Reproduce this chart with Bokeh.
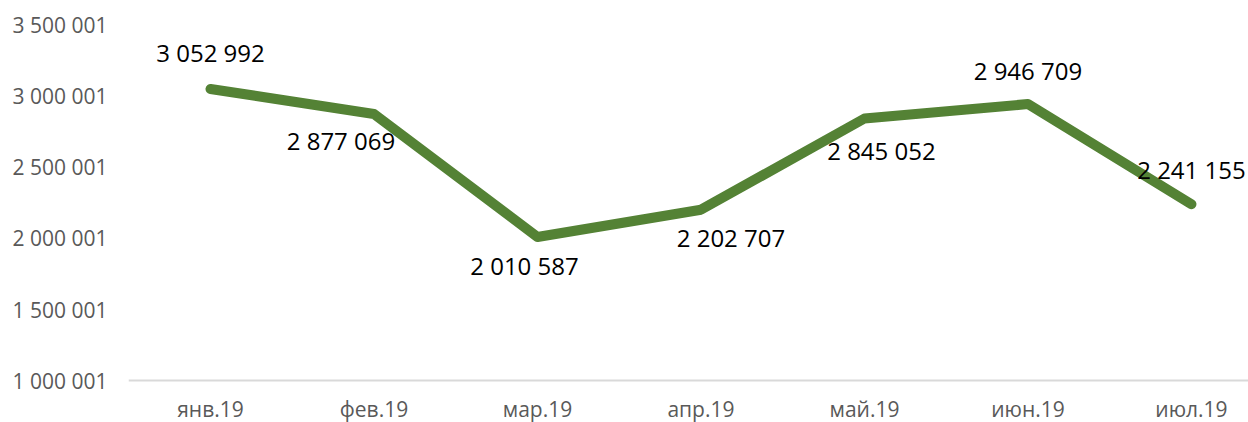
from bokeh.plotting import figure
from bokeh.models import ColumnDataSource, FixedTicker, Range1d, Span, PolyAnnotation
from bokeh.core.properties import value
from bokeh.embed import file_html
from bokeh.resources import INLINE

categories = ["янв.19", "фев.19", "мар.19", "апр.19", "май.19", "июн.19", "июл.19"]
values = [3052992, 2877069, 2010587, 2202707, 2845052, 2946709, 2241155]
y_ticks = [1000001, 1500001, 2000001, 2500001, 3000001, 3500001]

# label placement (screen px offsets from the point)
label_dx = [0, -33, -13, 30, 17, 0, 0]
label_dy = [-36, 27, 29, 28, 32, -34, -35]

def fmt(v):
    return f"{v:,}".replace(",", " ")

xs = list(range(len(categories)))
src = ColumnDataSource(dict(x=xs, y=values, label=[fmt(v) for v in values],
                            dx=label_dx, dy=label_dy))
cat_src = ColumnDataSource(dict(x=xs, y=[y_ticks[0]] * len(xs), label=categories))

FONT = "Open Sans"

p = figure(width=1248, height=422, output_backend="svg", toolbar_location=None,
           x_range=Range1d(-0.5015, 6.349), y_range=Range1d(704227, 3676056),
           min_border_left=128, min_border_right=0, min_border_top=0,
           min_border_bottom=0)
p.outline_line_color = None
p.background_fill_color = "white"
p.border_fill_color = "white"
p.xgrid.visible = False
p.ygrid.visible = False
p.xaxis.visible = False

# baseline
p.add_layout(Span(location=y_ticks[0], dimension="width",
                  line_color="#d9d9d9", line_width=2))

p.line("x", "y", source=src, line_color="#548235", line_width=10,
       line_cap="round", line_join="round")

p.text("x", "y", text="label", source=src, x_offset="dx", y_offset="dy",
       text_align="center", text_baseline="middle",
       text_font=value(FONT), text_font_size="24px", text_color="#000000")

# category labels
p.text("x", "y", text="label", source=cat_src, y_offset=28,
       text_align="center", text_baseline="middle",
       text_font=value(FONT), text_font_size="21px", text_color="#595959")

# decorative corner triangle (screen units relative to the frame, y upward)
p.add_layout(PolyAnnotation(xs=[-128, -97, -128], ys=[45, 0, 0],
                            xs_units="screen", ys_units="screen",
                            fill_color="#0f4f8f", fill_alpha=1.0,
                            line_color=None))

# y axis
p.yaxis.ticker = FixedTicker(ticks=y_ticks)
p.yaxis.major_label_overrides = {t: fmt(t) for t in y_ticks}
p.yaxis.axis_line_color = None
p.yaxis.major_tick_line_color = None
p.yaxis.minor_tick_line_color = None
p.yaxis.major_tick_out = 0
p.yaxis.major_label_standoff = 21
p.yaxis.major_label_text_font = FONT
p.yaxis.major_label_text_font_size = "21px"
p.yaxis.major_label_text_color = "#595959"

open("out.html", "w").write(file_html(p, INLINE))
